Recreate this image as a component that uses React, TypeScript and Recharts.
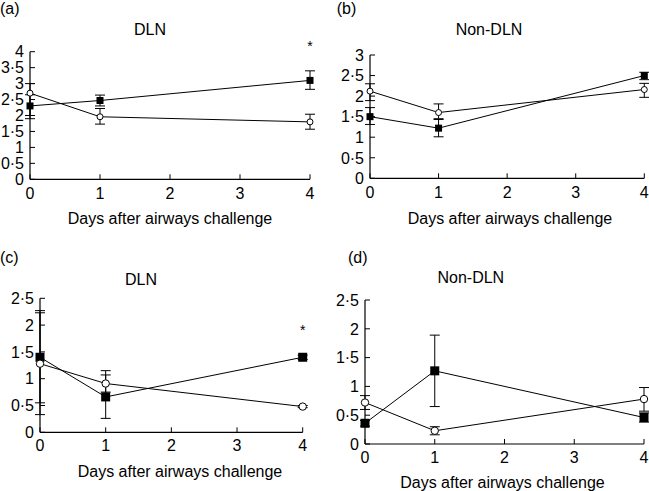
import React from 'react';
import { LineChart, Line, XAxis, YAxis, ErrorBar, ReferenceDot } from 'recharts';

const FONT = '"Liberation Sans", Arial, Helvetica, sans-serif';

const days = [0, 1, 4];
const xTicks = [0, 1, 2, 3, 4];
const yTicksA = [0, 0.5, 1, 1.5, 2, 2.5, 3, 3.5, 4];
const yTicksB = [0, 0.5, 1, 1.5, 2, 2.5, 3];
const yTicksCD = [0, 0.5, 1, 1.5, 2, 2.5];
const xLabel = 'Days after airways challenge';

// Panel (a) DLN
const aSquare = [2.3, 2.47, 3.1];
const aSquareErr = [[0.3, 0.35], [0.17, 0.17], [0.28, 0.3]];
const aCircle = [2.7, 1.96, 1.8];
const aCircleErr = [[0.8, 0.3], [0.23, 0.26], [0.23, 0.24]];

// Panel (b) Non-DLN
const bSquare = [1.5, 1.22, 2.5];
const bSquareErr = [[0.19, 0.22], [0.21, 0.21], [0.1, 0.08]];
const bCircle = [2.12, 1.6, 2.16];
const bCircleErr = [[0.23, 0.18], [0.15, 0.21], [0.19, 0.15]];

// Panel (c) DLN
const cSquare = [1.4, 0.66, 1.4];
const cSquareErr = [[0.85, 0.87], [0.4, 0.49], [0.04, 0.04]];
const cCircle = [1.28, 0.91, 0.48];
const cCircleErr = [[0.95, 0.95], [0.16, 0.16], [0.02, 0.02]];

// Panel (d) Non-DLN
const dSquare = [0.36, 1.27, 0.46];
const dSquareErr = [[0.05, 0.05], [0.62, 0.62], [0.08, 0.08]];
const dCircle = [0.72, 0.23, 0.78];
const dCircleErr = [[0.12, 0.12], [0.07, 0.07], [0.21, 0.2]];

const fmt = (v: number) => String(v).replace('.', '\u00b7');

const build = (sq: number[], sqErr: number[][], ci: number[], ciErr: number[][]) =>
  days.map((d, i) => ({ day: d, sq: sq[i], sqErr: sqErr[i], ci: ci[i], ciErr: ciErr[i] }));

const makeYTick = (m: number) => (props: any) => {
  const { x, y, payload } = props;
  return (
    <g>
      <line x1={x + m} x2={x + m + 5} y1={y} y2={y} stroke="#000" strokeWidth={1} />
      <text x={x} y={y} dy="0.36em" textAnchor="end" fontSize={16} fontFamily={FONT} fill="#000">
        {fmt(payload.value)}
      </text>
    </g>
  );
};

const makeXTick = (m: number) => (props: any) => {
  const { x, y, payload } = props;
  return (
    <g>
      <line x1={x} x2={x} y1={y - m} y2={y - m - 5} stroke="#000" strokeWidth={1} />
      <text x={x} y={y} dy="0.71em" textAnchor="middle" fontSize={16} fontFamily={FONT} fill="#000">
        {fmt(payload.value)}
      </text>
    </g>
  );
};

const makeSquare = (s: number) => (props: any) => {
  const { cx, cy, index } = props;
  return <rect key={'s' + index} x={cx - s / 2} y={cy - s / 2} width={s} height={s} fill="#000" />;
};
const makeCircle = (r: number) => (props: any) => {
  const { cx, cy, index } = props;
  return <circle key={'c' + index} cx={cx} cy={cy} r={r} fill="#fff" stroke="#000" strokeWidth={1} />;
};

type PanelProps = {
  left: number; top: number; width: number; height: number;
  margin: { top: number; right: number; bottom: number; left: number };
  yWidth: number; yMax: number; yTicks: number[];
  data: any[];
  title: string; titleX: number; titleY: number;
  letter: string; letterX: number; letterY: number;
  labelX: number; labelY: number;
  xTickMargin: number;
  sqSize: number; cr: number;
  star?: number;
};

function Panel(p: PanelProps) {
  return (
    <div style={{ position: 'absolute', left: p.left, top: p.top }}>
      <LineChart width={p.width} height={p.height} data={p.data} margin={p.margin}>
        <XAxis
          type="number"
          dataKey="day"
          domain={[0, 4]}
          ticks={xTicks}
          allowDecimals={false}
          tickSize={0}
          tickMargin={p.xTickMargin}
          tickLine={false}
          axisLine={{ stroke: '#000', strokeWidth: 1.2 }}
          tick={makeXTick(p.xTickMargin)}
          height={46}
          interval={0}
        />
        <YAxis
          type="number"
          domain={[0, p.yMax]}
          ticks={p.yTicks}
          width={p.yWidth}
          tickSize={0}
          tickMargin={6}
          tickLine={false}
          axisLine={{ stroke: '#000', strokeWidth: 1.2 }}
          tick={makeYTick(6)}
          interval={0}
        />
        <Line
          dataKey="sq"
          type="linear"
          stroke="#000"
          strokeWidth={1}
          dot={makeSquare(p.sqSize)}
          activeDot={false}
          isAnimationActive={false}
        >
          <ErrorBar dataKey="sqErr" direction="y" width={5} stroke="#000" strokeWidth={1} />
        </Line>
        <Line
          dataKey="ci"
          type="linear"
          stroke="#000"
          strokeWidth={1}
          dot={makeCircle(p.cr)}
          activeDot={false}
          isAnimationActive={false}
        >
          <ErrorBar dataKey="ciErr" direction="y" width={5} stroke="#000" strokeWidth={1} />
        </Line>
        {p.star !== undefined && (
          <ReferenceDot
            x={4}
            y={p.star}
            r={0}
            fill="none"
            stroke="none"
            ifOverflow="visible"
            label={{ value: '*', position: 'center', fontSize: 14, fill: '#000', fontFamily: FONT }}
          />
        )}
        <text x={p.titleX} y={p.titleY} textAnchor="middle" fontSize={16} fontFamily={FONT} fill="#000">
          {p.title}
        </text>
        <text x={p.letterX} y={p.letterY} textAnchor="start" fontSize={16} fontFamily={FONT} fill="#000">
          {p.letter}
        </text>
        <text x={p.labelX} y={p.labelY} textAnchor="middle" fontSize={16} fontFamily={FONT} fill="#000">
          {xLabel}
        </text>
      </LineChart>
    </div>
  );
}

export default function App() {
  return (
    <div
      style={{
        position: 'absolute',
        left: 0,
        top: 0,
        width: 649,
        height: 491,
        background: '#fff',
        fontFamily: FONT,
        overflow: 'hidden',
      }}
    >
      <Panel
        left={0} top={0} width={325} height={245}
        margin={{ top: 51.7, right: 15, bottom: 19.7, left: 0 }}
        yWidth={30} yMax={4} yTicks={yTicksA}
        data={build(aSquare, aSquareErr, aCircle, aCircleErr)}
        title="DLN" titleX={150} titleY={35}
        letter="(a)" letterX={0} letterY={13.5}
        labelX={170} labelY={224}
        xTickMargin={8.7}
        sqSize={7} cr={3}
        star={4.18}
      />
      <Panel
        left={325} top={0} width={324} height={245}
        margin={{ top: 55, right: 4.7, bottom: 20.7, left: 0 }}
        yWidth={45} yMax={3} yTicks={yTicksB}
        data={build(bSquare, bSquareErr, bCircle, bCircleErr)}
        title="Non-DLN" titleX={164} titleY={35}
        letter="(b)" letterX={11.7} letterY={13.5}
        labelX={185} labelY={224}
        xTickMargin={8.7}
        sqSize={7} cr={3}
      />
      <Panel
        left={0} top={245} width={325} height={246}
        margin={{ top: 53.3, right: 22.3, bottom: 12.7, left: 0 }}
        yWidth={40} yMax={2.5} yTicks={yTicksCD}
        data={build(cSquare, cSquareErr, cCircle, cCircleErr)}
        title="DLN" titleX={141} titleY={40}
        letter="(c)" letterX={0} letterY={18.3}
        labelX={180} labelY={231.7}
        xTickMargin={7.7}
        sqSize={9} cr={3.7}
        star={1.91}
      />
      <Panel
        left={325} top={245} width={324} height={246}
        margin={{ top: 55, right: 5, bottom: 1, left: 0 }}
        yWidth={40} yMax={2.5} yTicks={yTicksCD}
        data={build(dSquare, dSquareErr, dCircle, dCircleErr)}
        title="Non-DLN" titleX={145.8} titleY={38.3}
        letter="(d)" letterX={23} letterY={18.3}
        labelX={177.5} labelY={243.3}
        xTickMargin={7.7}
        sqSize={9} cr={3.7}
      />
    </div>
  );
}
